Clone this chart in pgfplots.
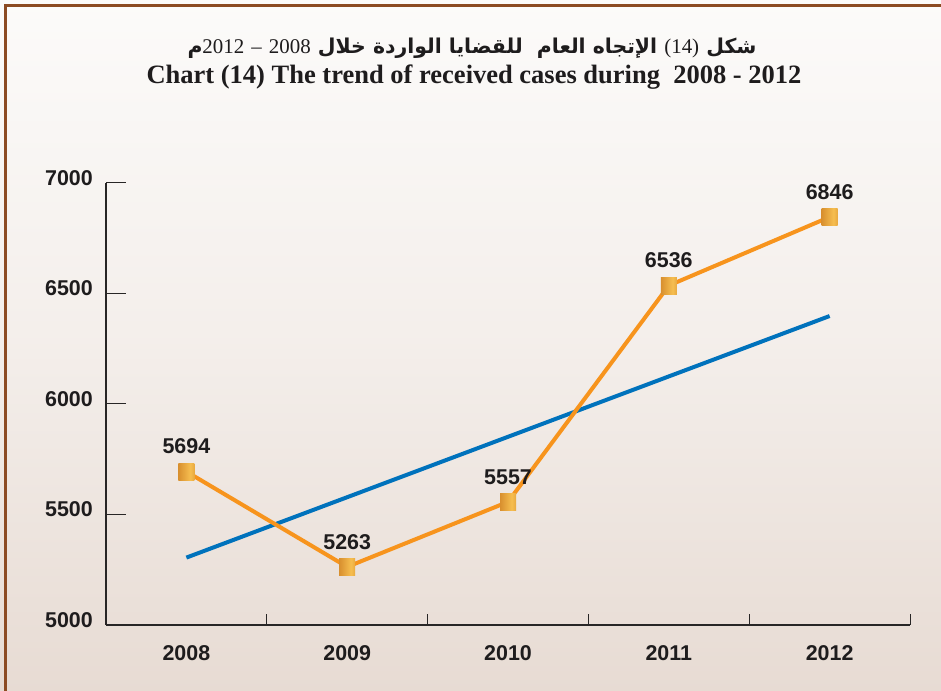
\documentclass[border=0pt]{standalone}
\usepackage{fontspec}
\usepackage{pgfplots}
\pgfplotsset{compat=1.18}
\TeXXeTstate=1
\setmainfont{Liberation Serif}
\newfontfamily\lsans{Liberation Sans}
\newfontfamily\arabicfont[Script=Arabic]{DejaVu Sans}
\definecolor{lineorange}{RGB}{247,148,29}
\definecolor{lineblue}{RGB}{0,114,188}
\definecolor{bgtop}{RGB}{252,251,250}
\definecolor{bgbot}{RGB}{231,219,211}
\definecolor{frame}{RGB}{140,75,35}
\definecolor{axcol}{RGB}{40,38,38}
\definecolor{txtcol}{RGB}{30,28,29}
\definecolor{golda}{RGB}{196,112,24}
\definecolor{goldb}{RGB}{246,190,80}
\definecolor{goldc}{RGB}{205,128,32}
\pgfdeclarehorizontalshading{goldshade}{100bp}{color(0bp)=(golda); color(62bp)=(goldb); color(100bp)=(goldc)}
\pgfdeclareplotmark{goldsq}{%
  \pgfpathrectangle{\pgfpoint{-8bp}{-8.5bp}}{\pgfpoint{16bp}{17bp}}%
  \pgfshadepath{goldshade}{0}\pgfusepath{}}
\newcommand{\lab}{\lsans\bfseries\fontsize{21.5}{25}\selectfont}
\newcommand{\tnum}{\rmfamily\mdseries\fontsize{21}{24}\selectfont}
\begin{document}
\begin{tikzpicture}[x=1bp,y=1bp]
\path[use as bounding box] (0,0) rectangle (941,691);
\shade[top color=bgtop, bottom color=bgbot, middle color=bgtop!60!bgbot] (-2,-2) rectangle (943,693);
\draw[frame, line width=2.2bp] (5.5,-10) -- (5.5,685.5) -- (950,685.5);
\node[anchor=base, inner sep=0pt, text=txtcol] at (472,637) {\arabicfont\bfseries\fontsize{20.5}{24}\selectfont\beginR شكل {\tnum (14)} الإتجاه العام\ \ للقضايا الواردة خلال {\tnum 2008} {\tnum –} {\tnum 2012}م\endR};
\node[anchor=base, inner sep=0pt, text=txtcol] at (474,607) {\bfseries\fontsize{26.6}{30}\selectfont Chart (14) The trend of received cases during\ \ 2008 - 2012};
\coordinate (O) at (106bp,66bp);
\begin{axis}[
  at={(O)}, anchor=south west,
  width=804bp, height=442bp, scale only axis,
  xmin=-0.5, xmax=4.5, ymin=5000, ymax=7000,
  axis x line=bottom, axis y line=left,
  axis line style={-, line width=1.3bp, color=axcol},
  tick align=inside,
  xtick={0,1,2,3,4},
  xticklabels={2008,2009,2010,2011,2012},
  major x tick style={draw=none},
  minor xtick={-0.5,0.5,1.5,2.5,3.5,4.5},
  minor tick length=11bp,
  minor x tick style={line width=1bp, color=axcol},
  ytick={5000,5500,6000,6500,7000},
  yticklabels={5000,5500,6000,6500,7000},
  major tick length=20bp,
  major y tick style={line width=1bp, color=axcol},
  xticklabel style={font=\lab, text=txtcol, anchor=north, inner sep=0pt, yshift=-20bp},
  yticklabel style={font=\lab, text=txtcol, anchor=east, inner sep=0pt, xshift=-13bp, yshift=5bp},
  /pgf/number format/1000 sep={},
  /pgf/number format/assume math mode=true,
  clip=false,
]
\addplot[lineblue, line width=4bp, no marks] coordinates {(0,5305) (4,6398)};
\addplot[lineorange, line width=4bp, mark=goldsq,
  nodes near coords,
  every node near coord/.append style={font=\lab, text=txtcol, anchor=center, inner sep=0pt, yshift=25bp}]
  coordinates {(0,5694) (1,5263) (2,5557) (3,6536) (4,6846)};
\end{axis}
\end{tikzpicture}
\end{document}
